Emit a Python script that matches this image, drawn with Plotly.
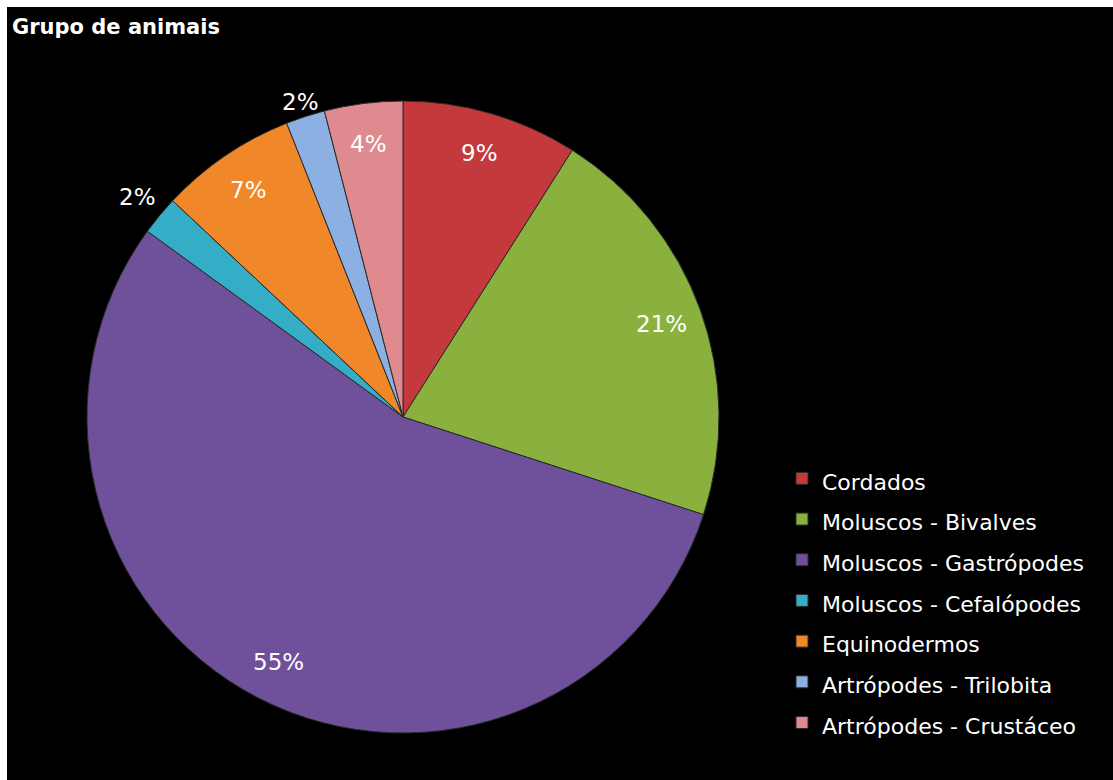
import math
import plotly.graph_objects as go

categories = ["Cordados", "Moluscos - Bivalves", "Moluscos - Gastrópodes",
              "Moluscos - Cefalópodes", "Equinodermos", "Artrópodes - Trilobita",
              "Artrópodes - Crustáceo"]
values = [9, 21, 55, 2, 7, 2, 4]
colors = ["#C4393B", "#8AB13E", "#6E509B", "#36ADC6", "#F0882A", "#8CB0E2", "#DE8A8E"]
label_text = [f"{v}%" for v in values]
label_outside = [False, False, False, True, False, True, False]

W, H = 1113, 780
cx, cy = 403, 417        # pixel centre of pie
R = 316                  # pixel radius
FONT = "DejaVu Sans"
LABEL_SIZE = 23

legend_labels = [f"<span style='font-size:22px'>{c}</span>" for c in categories]

fig = go.Figure()
fig.add_trace(go.Pie(
    labels=legend_labels, values=values, sort=False, direction="clockwise",
    rotation=0, textinfo="none", hoverinfo="label+percent",
    marker=dict(colors=colors, line=dict(color="#2a2a2a", width=1)),
    domain=dict(x=[(cx - R) / W, (cx + R) / W],
                y=[(H - cy - R) / H, (H - cy + R) / H]),
))

# percentage labels placed along each slice's mid-angle
annotations = []
total = sum(values)
cum = 0
for v, t, out in zip(values, label_text, label_outside):
    mid = (cum + v / 2) / total * 2 * math.pi
    cum += v
    s, c = math.sin(mid), math.cos(mid)
    if out:
        r = R + 6 + 30 * abs(s)
    else:
        r = R * 0.87
    px = cx + r * s
    py = cy - r * c
    annotations.append(dict(x=px / W, y=1 - py / H, xref="paper", yref="paper",
                            xanchor="center", yanchor="middle",
                            text=t, showarrow=False,
                            font=dict(color="white", size=LABEL_SIZE, family=FONT)))

annotations.append(dict(x=10 / W, y=1 - 27 / H, xref="paper", yref="paper",
                        xanchor="left", yanchor="middle", text="<b>Grupo de animais</b>",
                        showarrow=False,
                        font=dict(color="white", size=21, family=FONT)))

fig.update_layout(
    width=W, height=H,
    margin=dict(l=0, r=0, t=0, b=0),
    paper_bgcolor="white",
    plot_bgcolor="black",
    annotations=annotations,
    shapes=[dict(type="rect", xref="paper", yref="paper", x0=7 / W, x1=1,
                 y0=0, y1=1 - 7 / H, fillcolor="black", line=dict(width=0),
                 layer="below")],
    legend=dict(x=782 / W, y=1 - 453 / H, xanchor="left", yanchor="top",
                font=dict(color="white", size=29, family=FONT),
                bgcolor="rgba(0,0,0,0)", itemwidth=30),
    showlegend=True,
)

fig.write_html("out.html")
